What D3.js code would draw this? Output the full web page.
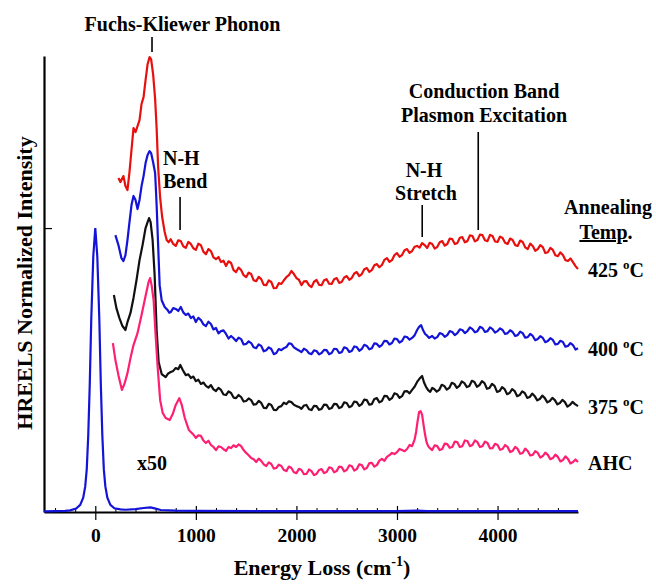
<!DOCTYPE html>
<html>
<head>
<meta charset="utf-8">
<script src="https://cdn.jsdelivr.net/npm/d3@7/dist/d3.min.js"></script>
<style>
  body { margin: 0; background: #fff; }
  text { font-family: "Liberation Serif", "Times New Roman", serif; font-weight: bold; fill: #000; }
</style>
</head>
<body>
<svg id="chart" width="656" height="584"></svg>
<script>
// [energy loss (cm-1), normalized intensity]; elastic peak = 1
const elastic = [[-510, 0.002], [-400, 0.003], [-300, 0.004], [-250, 0.006], [-190, 0.012], [-150, 0.025],
  [-120, 0.05], [-100, 0.09], [-85, 0.15], [-70, 0.27], [-55, 0.45], [-40, 0.68], [-20, 0.9], [0, 1],
  [20, 0.9], [40, 0.68], [55, 0.45], [70, 0.27], [85, 0.15], [100, 0.09], [120, 0.05], [150, 0.025],
  [190, 0.013], [250, 0.009], [300, 0.008], [400, 0.01], [480, 0.014], [550, 0.016], [600, 0.012],
  [650, 0.007], [800, 0.005], [1000, 0.004], [2000, 0.003], [3000, 0.003], [3200, 0.005], [3300, 0.003],
  [4800, 0.003]];

const ahc = [[175, 0.595], [200, 0.535], [230, 0.482], [265, 0.430], [290, 0.451], [320, 0.489], [350, 0.542],
  [380, 0.588], [420, 0.630], [460, 0.694], [500, 0.761], [530, 0.810], [545, 0.824], [560, 0.799], [580, 0.746],
  [600, 0.623], [620, 0.511], [645, 0.394], [670, 0.349], [700, 0.331], [740, 0.324], [770, 0.345], [800, 0.377],
  [835, 0.401], [860, 0.377], [890, 0.331], [930, 0.289], [970, 0.275],
  [1000, 0.261], [1025, 0.270], [1050, 0.268], [1075, 0.252], [1100, 0.243], [1125, 0.251], [1150, 0.236],
  [1175, 0.229], [1200, 0.218], [1225, 0.231], [1250, 0.229], [1275, 0.221], [1300, 0.215], [1325, 0.229],
  [1350, 0.225], [1375, 0.235], [1400, 0.229], [1425, 0.238], [1450, 0.232], [1475, 0.218], [1500, 0.208],
  [1525, 0.200], [1550, 0.190], [1575, 0.186], [1600, 0.176], [1625, 0.188], [1650, 0.180], [1675, 0.168],
  [1700, 0.162], [1725, 0.175], [1750, 0.169], [1775, 0.153], [1800, 0.155], [1825, 0.167], [1850, 0.162],
  [1875, 0.148], [1900, 0.144], [1925, 0.160], [1950, 0.155], [1975, 0.140], [2000, 0.137], [2025, 0.152],
  [2050, 0.148], [2075, 0.133], [2100, 0.134], [2125, 0.150], [2150, 0.144], [2175, 0.130], [2200, 0.134],
  [2225, 0.148], [2250, 0.151], [2275, 0.137], [2300, 0.141], [2325, 0.157], [2350, 0.155], [2375, 0.140],
  [2400, 0.144], [2425, 0.160], [2450, 0.158], [2475, 0.143], [2500, 0.148], [2525, 0.164], [2550, 0.162],
  [2575, 0.146], [2600, 0.151], [2625, 0.168], [2650, 0.165], [2675, 0.150], [2700, 0.155], [2725, 0.172],
  [2750, 0.173], [2775, 0.160], [2800, 0.165], [2825, 0.181], [2850, 0.187], [2875, 0.180], [2900, 0.194],
  [2925, 0.200], [2950, 0.208], [2975, 0.204], [3000, 0.211], [3025, 0.222], [3050, 0.218], [3075, 0.214],
  [3100, 0.222], [3125, 0.236], [3150, 0.232], [3175, 0.255], [3190, 0.282], [3205, 0.320], [3220, 0.352],
  [3235, 0.355], [3250, 0.342], [3265, 0.305], [3280, 0.271], [3295, 0.245], [3310, 0.232], [3330, 0.224],
  [3350, 0.218], [3375, 0.235], [3400, 0.232], [3425, 0.218], [3450, 0.222], [3475, 0.241], [3500, 0.239],
  [3525, 0.226], [3550, 0.229], [3575, 0.248], [3600, 0.246], [3625, 0.229], [3650, 0.232], [3675, 0.252],
  [3700, 0.250], [3725, 0.232], [3750, 0.236], [3775, 0.252], [3800, 0.246], [3825, 0.229], [3850, 0.232],
  [3875, 0.248], [3900, 0.243], [3925, 0.224], [3950, 0.225], [3975, 0.240], [4000, 0.236], [4025, 0.219],
  [4050, 0.222], [4075, 0.236], [4100, 0.229], [4125, 0.211], [4150, 0.215], [4175, 0.229], [4200, 0.222],
  [4225, 0.205], [4250, 0.208], [4275, 0.223], [4300, 0.215], [4325, 0.199], [4350, 0.201], [4375, 0.214],
  [4400, 0.208], [4425, 0.192], [4450, 0.197], [4475, 0.209], [4500, 0.201], [4525, 0.186], [4550, 0.190],
  [4575, 0.202], [4600, 0.194], [4625, 0.178], [4650, 0.183], [4675, 0.196], [4700, 0.187], [4725, 0.171],
  [4750, 0.176], [4775, 0.185], [4800, 0.176]];

const t375 = [[185, 0.764], [210, 0.718], [240, 0.683], [270, 0.655], [300, 0.641], [320, 0.669], [350, 0.701],
  [380, 0.754], [410, 0.817], [440, 0.887], [470, 0.940], [500, 1.000], [520, 1.021], [535, 1.035], [550, 1.021],
  [570, 0.958], [590, 0.835], [610, 0.641], [630, 0.528], [660, 0.486],
  [700, 0.475], [725, 0.488], [750, 0.493], [775, 0.497], [800, 0.507], [825, 0.503], [845, 0.518], [870, 0.500],
  [885, 0.491], [900, 0.482], [925, 0.485], [950, 0.472], [975, 0.477], [1000, 0.461], [1025, 0.466],
  [1050, 0.451], [1075, 0.456], [1100, 0.444], [1125, 0.438], [1150, 0.447], [1175, 0.432], [1200, 0.426],
  [1225, 0.437], [1250, 0.430], [1275, 0.414], [1300, 0.412], [1325, 0.425], [1350, 0.419], [1375, 0.403],
  [1400, 0.401], [1425, 0.412], [1450, 0.405], [1475, 0.389], [1500, 0.391], [1525, 0.400], [1550, 0.394],
  [1575, 0.378], [1600, 0.380], [1625, 0.391], [1650, 0.384], [1675, 0.367], [1700, 0.366], [1725, 0.381],
  [1750, 0.377], [1775, 0.360], [1800, 0.359], [1825, 0.370], [1850, 0.373], [1875, 0.385], [1900, 0.380],
  [1925, 0.390], [1950, 0.387], [1975, 0.378], [2000, 0.373], [2025, 0.370], [2050, 0.363], [2075, 0.375],
  [2100, 0.377], [2125, 0.362], [2150, 0.359], [2175, 0.374], [2200, 0.373], [2225, 0.360], [2250, 0.363],
  [2275, 0.378], [2300, 0.377], [2325, 0.363], [2350, 0.366], [2375, 0.381], [2400, 0.380], [2425, 0.366],
  [2450, 0.370], [2475, 0.386], [2500, 0.384], [2525, 0.369], [2550, 0.373], [2575, 0.389], [2600, 0.387],
  [2625, 0.374], [2650, 0.380], [2675, 0.396], [2700, 0.394], [2725, 0.378], [2750, 0.380], [2775, 0.398],
  [2800, 0.401], [2825, 0.386], [2850, 0.391], [2875, 0.409], [2900, 0.408], [2925, 0.395], [2950, 0.401],
  [2975, 0.418], [3000, 0.415], [3025, 0.402], [3050, 0.408], [3075, 0.425], [3100, 0.426], [3125, 0.418],
  [3150, 0.430], [3175, 0.441], [3200, 0.458], [3225, 0.470], [3250, 0.479], [3270, 0.455], [3290, 0.440],
  [3310, 0.429], [3330, 0.423], [3350, 0.437], [3370, 0.433], [3395, 0.424], [3420, 0.430], [3445, 0.448],
  [3470, 0.444], [3495, 0.431], [3520, 0.437], [3545, 0.455], [3570, 0.451], [3595, 0.437], [3620, 0.444],
  [3645, 0.460], [3670, 0.454], [3695, 0.440], [3720, 0.444], [3745, 0.462], [3770, 0.458], [3795, 0.441],
  [3820, 0.447], [3845, 0.461], [3870, 0.454], [3895, 0.434], [3920, 0.437], [3945, 0.451], [3970, 0.444],
  [3995, 0.423], [4020, 0.426], [4045, 0.440], [4070, 0.433], [4095, 0.415], [4120, 0.419], [4145, 0.433],
  [4170, 0.426], [4195, 0.408], [4220, 0.412], [4245, 0.425], [4270, 0.419], [4295, 0.402], [4320, 0.405],
  [4345, 0.417], [4370, 0.408], [4395, 0.393], [4420, 0.398], [4445, 0.410], [4470, 0.401], [4495, 0.386],
  [4520, 0.391], [4545, 0.402], [4570, 0.394], [4595, 0.379], [4620, 0.384], [4645, 0.395], [4670, 0.387],
  [4695, 0.371], [4720, 0.377], [4745, 0.388], [4770, 0.380], [4800, 0.373]];

const t400 = [[200, 0.975], [230, 0.940], [260, 0.894], [280, 0.884], [300, 0.905], [320, 0.958], [340, 1.021],
  [360, 1.081], [380, 1.113], [400, 1.099], [420, 1.067], [440, 1.099], [460, 1.148], [480, 1.183], [500, 1.229],
  [520, 1.257], [540, 1.271], [555, 1.264], [575, 1.232], [595, 1.194], [610, 1.081], [625, 0.940], [640, 0.799],
  [660, 0.746], [690, 0.722],
  [720, 0.711], [735, 0.702], [750, 0.704], [775, 0.718], [800, 0.715], [825, 0.708], [850, 0.722], [875, 0.703],
  [900, 0.694], [925, 0.699], [950, 0.683], [975, 0.689], [1000, 0.669], [1025, 0.684], [1050, 0.676],
  [1075, 0.661], [1100, 0.655], [1125, 0.670], [1150, 0.662], [1175, 0.643], [1200, 0.648], [1225, 0.629],
  [1250, 0.637], [1275, 0.640], [1300, 0.627], [1325, 0.611], [1350, 0.620], [1375, 0.612], [1400, 0.602],
  [1425, 0.614], [1450, 0.609], [1475, 0.590], [1500, 0.592], [1525, 0.601], [1550, 0.595], [1575, 0.580],
  [1600, 0.577], [1625, 0.590], [1650, 0.585], [1675, 0.566], [1700, 0.570], [1725, 0.580], [1750, 0.574],
  [1775, 0.556], [1800, 0.560], [1825, 0.574], [1850, 0.570], [1875, 0.577], [1900, 0.581], [1925, 0.594],
  [1950, 0.592], [1975, 0.580], [2000, 0.574], [2025, 0.569], [2050, 0.563], [2075, 0.575], [2100, 0.570],
  [2125, 0.559], [2150, 0.556], [2175, 0.569], [2200, 0.567], [2225, 0.555], [2250, 0.560], [2275, 0.571],
  [2300, 0.570], [2325, 0.556], [2350, 0.560], [2375, 0.575], [2400, 0.574], [2425, 0.560], [2450, 0.563],
  [2475, 0.580], [2500, 0.577], [2525, 0.564], [2550, 0.567], [2575, 0.583], [2600, 0.581], [2625, 0.568],
  [2650, 0.574], [2675, 0.589], [2700, 0.585], [2725, 0.573], [2750, 0.577], [2775, 0.594], [2800, 0.592],
  [2825, 0.582], [2850, 0.588], [2875, 0.603], [2900, 0.602], [2925, 0.590], [2950, 0.595], [2975, 0.611],
  [3000, 0.609], [3025, 0.597], [3050, 0.602], [3075, 0.618], [3100, 0.616], [3125, 0.607], [3150, 0.613],
  [3175, 0.622], [3200, 0.641], [3220, 0.652], [3240, 0.658], [3260, 0.640], [3280, 0.627], [3300, 0.621],
  [3320, 0.613], [3350, 0.620], [3375, 0.611], [3400, 0.616], [3425, 0.630], [3450, 0.627], [3475, 0.617],
  [3500, 0.623], [3525, 0.637], [3550, 0.634], [3575, 0.623], [3600, 0.630], [3625, 0.643], [3650, 0.641],
  [3675, 0.630], [3700, 0.637], [3725, 0.650], [3750, 0.644], [3775, 0.633], [3800, 0.637], [3825, 0.652],
  [3850, 0.648], [3875, 0.634], [3900, 0.637], [3925, 0.650], [3950, 0.644], [3975, 0.632], [4000, 0.637],
  [4025, 0.647], [4050, 0.641], [4075, 0.627], [4100, 0.630], [4125, 0.640], [4150, 0.634], [4175, 0.620],
  [4200, 0.623], [4225, 0.635], [4250, 0.630], [4275, 0.614], [4300, 0.616], [4325, 0.627], [4350, 0.620],
  [4375, 0.605], [4400, 0.609], [4425, 0.619], [4450, 0.613], [4475, 0.598], [4500, 0.602], [4525, 0.612],
  [4550, 0.606], [4575, 0.590], [4600, 0.592], [4625, 0.603], [4650, 0.599], [4675, 0.582], [4700, 0.585],
  [4725, 0.595], [4750, 0.588], [4775, 0.572], [4800, 0.577]];

const t425 = [[230, 1.176], [250, 1.162], [280, 1.183], [300, 1.148], [320, 1.134], [340, 1.197], [360, 1.275],
  [380, 1.352], [400, 1.338], [420, 1.359], [440, 1.380], [460, 1.437], [480, 1.461], [500, 1.521], [520, 1.577],
  [540, 1.602], [555, 1.595], [575, 1.542], [595, 1.455], [610, 1.352], [625, 1.215], [645, 1.106], [665, 1.039],
  [690, 0.986],
  [710, 0.958], [730, 0.950], [750, 0.961], [775, 0.944], [800, 0.937], [825, 0.957], [850, 0.954], [875, 0.936],
  [900, 0.930], [925, 0.951], [950, 0.944], [975, 0.929], [1000, 0.923], [1025, 0.945], [1050, 0.940],
  [1075, 0.917], [1100, 0.908], [1125, 0.926], [1150, 0.919], [1175, 0.897], [1200, 0.891], [1225, 0.898],
  [1250, 0.880], [1275, 0.885], [1300, 0.866], [1325, 0.883], [1350, 0.877], [1375, 0.852], [1400, 0.845],
  [1425, 0.861], [1450, 0.852], [1475, 0.834], [1500, 0.827], [1525, 0.843], [1550, 0.838], [1575, 0.816],
  [1600, 0.813], [1625, 0.828], [1650, 0.820], [1675, 0.800], [1700, 0.799], [1725, 0.816], [1750, 0.810],
  [1775, 0.788], [1800, 0.789], [1825, 0.806], [1850, 0.803], [1875, 0.816], [1900, 0.827], [1925, 0.834],
  [1950, 0.849], [1975, 0.838], [2000, 0.824], [2025, 0.818], [2050, 0.799], [2075, 0.812], [2100, 0.813],
  [2125, 0.799], [2150, 0.792], [2175, 0.811], [2200, 0.817], [2225, 0.800], [2250, 0.799], [2275, 0.816],
  [2300, 0.820], [2325, 0.804], [2350, 0.803], [2375, 0.820], [2400, 0.824], [2425, 0.807], [2450, 0.810],
  [2475, 0.826], [2500, 0.831], [2525, 0.818], [2550, 0.824], [2575, 0.840], [2600, 0.845], [2625, 0.831],
  [2650, 0.838], [2675, 0.855], [2700, 0.859], [2725, 0.846], [2750, 0.852], [2775, 0.869], [2800, 0.873],
  [2825, 0.862], [2850, 0.870], [2875, 0.888], [2900, 0.894], [2925, 0.881], [2950, 0.887], [2975, 0.905],
  [3000, 0.912], [3025, 0.899], [3050, 0.905], [3075, 0.922], [3100, 0.926], [3125, 0.913], [3150, 0.919],
  [3175, 0.934], [3200, 0.937], [3225, 0.931], [3250, 0.947], [3275, 0.940], [3300, 0.930], [3325, 0.948],
  [3350, 0.944], [3375, 0.928], [3400, 0.933], [3425, 0.950], [3450, 0.954], [3475, 0.938], [3500, 0.944],
  [3525, 0.963], [3550, 0.961], [3575, 0.944], [3600, 0.947], [3625, 0.966], [3650, 0.968], [3675, 0.950],
  [3700, 0.954], [3725, 0.974], [3750, 0.972], [3775, 0.953], [3800, 0.958], [3825, 0.977], [3850, 0.975],
  [3875, 0.957], [3900, 0.954], [3925, 0.976], [3950, 0.972], [3975, 0.953], [4000, 0.951], [4025, 0.970],
  [4050, 0.965], [4075, 0.948], [4100, 0.944], [4125, 0.963], [4150, 0.958], [4175, 0.940], [4200, 0.937],
  [4225, 0.956], [4250, 0.951], [4275, 0.932], [4300, 0.926], [4325, 0.945], [4350, 0.937], [4375, 0.920],
  [4400, 0.926], [4425, 0.940], [4450, 0.933], [4475, 0.912], [4500, 0.915], [4525, 0.930], [4550, 0.923],
  [4575, 0.904], [4600, 0.901], [4625, 0.914], [4650, 0.905], [4675, 0.887], [4700, 0.884], [4725, 0.893],
  [4750, 0.880], [4775, 0.866], [4800, 0.856]];

const majorTicks = [0, 1000, 2000, 3000, 4000];
const minorTicks = [-400, -200, 200, 400, 600, 800, 1200, 1400, 1600, 1800, 2200, 2400, 2600, 2800,
  3200, 3400, 3600, 3800, 4200, 4400, 4600];
const tempLabels = ['425', '400', '375', 'AHC'];
// feature positions (cm-1)
const fuchsKliewer = 564;
const nhBend = 843;
const nhStretch = 3251;
const plasmon = 3808;

const startApp = () => {
  const svg = d3.select('#chart');
  const x = d3.scaleLinear().domain([-510, 4800]).range([44, 578]);
  const y = d3.scaleLinear().domain([0, 1.606]).range([512, 56]);
  const line = d3.line().x(d => x(d[0])).y(d => y(d[1]));

  const series = [
    { data: t425, color: '#e8100e', label: tempLabels[0] },
    { data: t400, color: '#1414d8', label: tempLabels[1] },
    { data: t375, color: '#111111', label: tempLabels[2] },
    { data: ahc, color: '#ff1f72', label: tempLabels[3] },
  ];

  // axes
  const xAxis = svg.append('g').attr('transform', `translate(0, ${y(0)})`)
    .call(d3.axisBottom(x).tickValues(majorTicks).tickSize(8).tickSizeOuter(0).tickFormat(d3.format('d')));
  xAxis.select('.domain').attr('stroke-width', 2.2);
  xAxis.selectAll('.tick line').attr('y1', -6).attr('stroke-width', 1.2);
  xAxis.selectAll('.tick text').attr('y', 30).attr('dy', 0)
    .style('font-family', '"Liberation Serif", serif').style('font-weight', 'bold').style('font-size', '19.5px');

  svg.append('g').attr('transform', `translate(0, ${y(0)})`)
    .call(d3.axisBottom(x).tickValues(minorTicks).tickSize(-4).tickSizeOuter(0).tickFormat(''))
    .call(g => g.select('.domain').remove())
    .selectAll('.tick line').attr('stroke-width', 1);

  const yAxis = svg.append('g').attr('transform', `translate(${x.range()[0]}, 0)`)
    .call(d3.axisLeft(y).tickValues([1]).tickSize(-8).tickSizeOuter(0).tickFormat(''));
  yAxis.select('.domain').attr('stroke-width', 2.2);
  yAxis.selectAll('.tick line').attr('stroke-width', 1.2);

  // spectra
  svg.append('path').datum(elastic)
    .attr('d', line).attr('fill', 'none').attr('stroke', '#1414d8').attr('stroke-width', 2.2);

  series.forEach(({ data, color }) => {
    svg.append('path').datum(data)
      .attr('d', line).attr('fill', 'none').attr('stroke', color)
      .attr('stroke-width', 2.2).attr('stroke-linejoin', 'round');
  });

  // temperature labels at the end of each trace
  series.forEach(({ data, label }) => {
    const t = svg.append('text').attr('x', 588).attr('y', y(data[data.length - 1][1]) + 8)
      .style('font-size', '20px');
    if (label === 'AHC') {
      t.text(label);
    } else {
      t.append('tspan').text(`${label} `);
      t.append('tspan').text('o').style('font-size', '13px').attr('dy', -8);
      t.append('tspan').text('C').attr('dy', 8);
    }
  });

  const annot = svg.append('g').style('font-size', '20px');
  const addText = (tx, ty, str, anchor = 'middle') =>
    annot.append('text').attr('x', tx).attr('y', ty).attr('text-anchor', anchor).text(str);
  const addLine = (e, y1, y2) =>
    annot.append('line').attr('x1', x(e)).attr('x2', x(e)).attr('y1', y1).attr('y2', y2)
      .attr('stroke', '#000').attr('stroke-width', 1.6);

  addText(182.5, 31, 'Fuchs-Kliewer Phonon');
  addLine(fuchsKliewer, 37, 52);
  addText(163, 165, 'N-H', 'start');
  addText(163, 188, 'Bend', 'start');
  addLine(nhBend, 197, 230);
  addText(424, 177, 'N-H');
  addText(426, 200, 'Stretch');
  addLine(nhStretch, 205, 237);
  addText(484, 98, 'Conduction Band');
  addText(484, 122, 'Plasmon Excitation');
  addLine(plasmon, 132, 230);
  addText(608, 214, 'Annealing');
  const temp = annot.append('text').attr('x', 606).attr('y', 239).attr('text-anchor', 'middle');
  temp.append('tspan').text('Temp').style('text-decoration', 'underline');
  temp.append('tspan').text('.');
  addText(137, 470, 'x50', 'start');

  // axis titles
  const xt = svg.append('text').attr('x', 322).attr('y', 575).attr('text-anchor', 'middle')
    .style('font-size', '22px');
  xt.append('tspan').text('Energy Loss (cm');
  xt.append('tspan').text('-1').style('font-size', '14px').attr('dy', -9);
  xt.append('tspan').text(')').attr('dy', 9);

  svg.append('text').attr('transform', 'translate(31.5, 283) rotate(-90)')
    .attr('text-anchor', 'middle').style('font-size', '22px')
    .text('HREELS Normalized Intensity');
};

window.onload = startApp;
</script>
</body>
</html>
